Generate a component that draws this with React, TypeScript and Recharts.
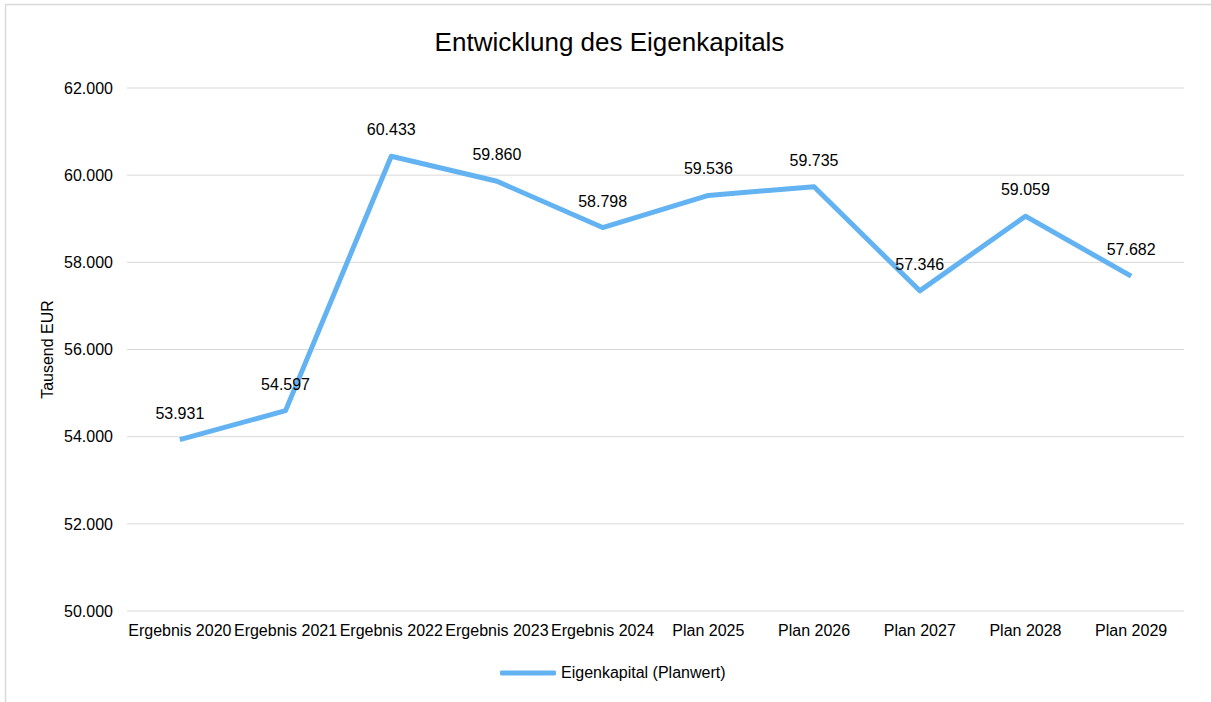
import React from "react";
import {
  LineChart,
  Line,
  XAxis,
  YAxis,
  CartesianGrid,
  Legend,
  LabelList,
} from "recharts";

const categories = [
  "Ergebnis 2020",
  "Ergebnis 2021",
  "Ergebnis 2022",
  "Ergebnis 2023",
  "Ergebnis 2024",
  "Plan 2025",
  "Plan 2026",
  "Plan 2027",
  "Plan 2028",
  "Plan 2029",
];

const eigenkapital = [53931, 54597, 60433, 59860, 58798, 59536, 59735, 57346, 59059, 57682];

const yTicks = [50000, 52000, 54000, 56000, 58000, 60000, 62000];

const seriesName = "Eigenkapital (Planwert)";
const title = "Entwicklung des Eigenkapitals";
const yLabel = "Tausend EUR";

const LINE_COLOR = "#63b3f2";
const GRID_COLOR = "#d9d9d9";
const FONT = "'Liberation Sans', Arial, sans-serif";

// german thousands separator: 62000 -> "62.000"
function fmt(v: number): string {
  const s = Math.round(v).toString();
  return s.replace(/\B(?=(\d{3})+(?!\d))/g, ".");
}

const data = categories.map((c, i) => ({ name: c, value: eigenkapital[i] }));

function LegendContent() {
  return (
    <div style={{ display: "flex", alignItems: "center", height: 20, fontFamily: FONT, fontSize: 16, color: "#000" }}>
      <svg width={56} height={6} style={{ marginRight: 5 }}>
        <line x1={2} y1={3} x2={54} y2={3} stroke={LINE_COLOR} strokeWidth={5} strokeLinecap="round" />
      </svg>
      <span style={{ whiteSpace: "nowrap" }}>{seriesName}</span>
    </div>
  );
}

export default function App() {
  return (
    <div
      style={{
        position: "relative",
        width: 1211,
        height: 702,
        overflow: "hidden",
        background: "#fff",
        fontFamily: FONT,
      }}
    >
      <style>{"html,body{margin:0;padding:0;overflow:hidden;background:#fff}"}</style>
      <div style={{ position: "absolute", left: 0, top: 0 }}>
        <LineChart
          width={1211}
          height={702}
          data={data}
          margin={{ top: 88, right: 27, bottom: 61, left: 0 }}
        >
          <CartesianGrid vertical={false} stroke={GRID_COLOR} strokeWidth={1} />
          <XAxis
            dataKey="name"
            axisLine={false}
            tickLine={false}
            tickMargin={8}
            height={30}
            interval={0}
            padding={{ left: 52.85, right: 52.85 }}
            tick={{ fontSize: 16, fill: "#000", fontFamily: FONT }}
          />
          <YAxis
            domain={[50000, 62000]}
            ticks={yTicks}
            width={127}
            axisLine={false}
            tickLine={false}
            tickMargin={8}
            tickFormatter={(v: number) => fmt(v)}
            tick={{ fontSize: 16, fill: "#000", fontFamily: FONT }}
            label={{
              content: () => (
                <text
                  x={47}
                  y={349.5}
                  transform="rotate(-90 47 349.5)"
                  textAnchor="middle"
                  dominantBaseline="central"
                  fontSize={16}
                  fontFamily={FONT}
                  fill="#000"
                >
                  {yLabel}
                </text>
              ),
            }}
          />
          <Legend
            layout="horizontal"
            verticalAlign="middle"
            align="center"
            width={300}
            wrapperStyle={{ top: 663, left: 500 }}
            content={() => <LegendContent />}
          />
          <Line
            type="linear"
            dataKey="value"
            name={seriesName}
            stroke={LINE_COLOR}
            strokeWidth={5}
            strokeLinejoin="round"
            dot={false}
            activeDot={false}
            isAnimationActive={false}
          >
            <LabelList
              dataKey="value"
              position="top"
              offset={21}
              formatter={(v: number) => fmt(v)}
              style={{ fontSize: 16, fill: "#000", fontFamily: FONT }}
            />
          </Line>
        </LineChart>
      </div>
      {/* title and chart frame; the frame's right and bottom edges lie outside the picture */}
      <svg
        width={1211}
        height={702}
        style={{ position: "absolute", left: 0, top: 0, pointerEvents: "none" }}
      >
        <polyline points="5.5,702 5.5,4.5 1211,4.5" fill="none" stroke={GRID_COLOR} strokeWidth={1.5} />
        <text x={609.5} y={51} textAnchor="middle" fontSize={26} fontFamily={FONT} fill="#000">
          {title}
        </text>
      </svg>
    </div>
  );
}
